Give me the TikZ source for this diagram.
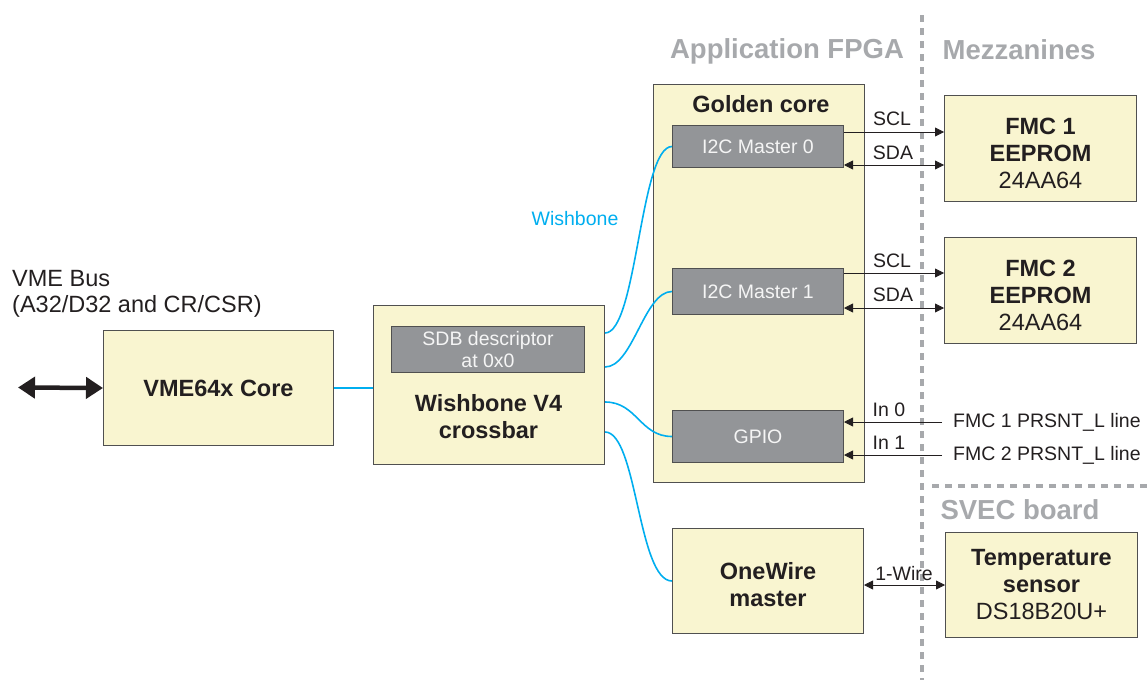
\documentclass[tikz,border=0pt]{standalone}
\usepackage{fontspec}
\setmainfont{Liberation Sans}
\usetikzlibrary{arrows.meta}
\definecolor{cream}{RGB}{249,245,208}
\definecolor{edge}{RGB}{80,80,80}
\definecolor{subgrey}{RGB}{147,149,152}
\definecolor{subtext}{RGB}{245,245,245}
\definecolor{hdrgrey}{RGB}{167,169,172}
\definecolor{wbblue}{RGB}{0,174,239}
\definecolor{ink}{RGB}{35,31,32}
\begin{document}
\begin{tikzpicture}[x=1pt,y=-1pt,
  blk/.style={draw=edge,fill=cream,line width=1pt,anchor=north west,inner sep=0pt,align=center,text=ink},
  sub/.style={draw=edge,fill=subgrey,line width=1pt,anchor=north west,inner sep=0pt,align=center,
    text=subtext,font=\fontsize{19.5}{22}\selectfont},
  bold/.style={font=\fontsize{23.5}{27}\selectfont\bfseries},
  body/.style={font=\fontsize{23.5}{27}\selectfont},
  bigtxt/.style={text=ink,align=center,font=\fontsize{23.5}{27}\selectfont\bfseries},
  lbl/.style={text=ink,font=\fontsize{19.5}{22}\selectfont,inner sep=1pt},
  hdr/.style={text=hdrgrey,font=\fontsize{27.5}{30}\selectfont\bfseries},
  wb/.style={draw=wbblue,line width=1.6pt},
  sig/.style={draw=ink,line width=0.8pt,-{Triangle[length=9pt,width=9pt]}},
  sigboth/.style={draw=ink,line width=0.8pt,{Triangle[length=9pt,width=9pt]}-{Triangle[length=9pt,width=9pt]}},
  bus/.style={draw=ink,line width=4.5pt,{Triangle[length=17pt,width=21pt]}-{Triangle[length=17pt,width=21pt]}},
  divider/.style={draw=hdrgrey,line width=3.5pt,dash pattern=on 7pt off 6pt}
]
\path[use as bounding box] (0,0) rectangle (1148,680);

% region dividers
\coordinate (vtop) at (922,15);
\coordinate (vbot) at (922,680);
\coordinate (hleft) at (932,486);
\coordinate (hright) at (1148,486);
\draw[divider] (vtop) -- (vbot);
\draw[divider] (hleft) -- (hright);

% region headings
\node[hdr] (hfpga) at (787,51) {Application FPGA};
\node[hdr] (hmezz) at (1019,49.5) {Mezzanines};
\node[hdr] (hsvec) at (1020,510) {SVEC board};

% VME side
\node[text=ink,font=\fontsize{23.5}{26}\selectfont,align=left,anchor=west,inner sep=3pt] (vmebus) at (9,294)
  {VME Bus\\(A32/D32 and CR/CSR)};
\node[blk,bold,minimum width=230pt,minimum height=115pt] (vme) at (103,330) {VME64x Core};
\coordinate (busend) at (18,387.5);
\draw[bus] (busend) -- (vme.west);

% crossbar
\node[blk,minimum width=231pt,minimum height=159pt] (xbar) at (373,305) {};
\node[sub,minimum width=193pt,minimum height=46pt] (sdb) at (391,326) {SDB descriptor\\at 0x0};
\node[bigtxt] (xbartxt) at (488.5,417) {Wishbone V4\\crossbar};
\draw[wb] (vme.east) -- (xbar.west |- vme.east);

% golden core
\node[blk,minimum width=211pt,minimum height=398pt] (gold) at (653,84) {};
\node[bigtxt] (goldtxt) at (761,104.5) {Golden core};
\node[sub,minimum width=171pt,minimum height=42pt] (i2c0) at (672,125) {I2C Master 0};
\node[sub,minimum width=171pt,minimum height=46pt] (i2c1) at (672,268) {I2C Master 1};
\node[sub,minimum width=171pt,minimum height=52pt] (gpio) at (672,410) {GPIO};
\node[blk,bold,minimum width=191pt,minimum height=105pt] (ow) at (672,528) {\rule{0pt}{24pt}OneWire\\master};

% wishbone links
\draw[wb] ([yshift=-28pt]xbar.north east) .. controls +(32,0) and +(-32,0) .. (i2c0.west);
\draw[wb] ([yshift=-62pt]xbar.north east) .. controls +(28,0) and +(-28,0) .. (i2c1.west);
\draw[wb] ([yshift=-97pt]xbar.north east) .. controls +(32,0) and +(-32,0) .. (gpio.west);
\draw[wb] ([yshift=-127pt]xbar.north east) .. controls +(32,0) and +(-34,0) .. (ow.west);
\node[lbl,text=wbblue] (wblbl) at (575,219) {Wishbone};

% mezzanine and board devices
\node[blk,body,minimum width=192pt,minimum height=106pt] (fmc1) at (944,95)
  {\rule{0pt}{27pt}\textbf{FMC 1}\\\textbf{EEPROM}\\24AA64};
\node[blk,body,minimum width=192pt,minimum height=106pt] (fmc2) at (944,237)
  {\rule{0pt}{27pt}\textbf{FMC 2}\\\textbf{EEPROM}\\24AA64};
\node[blk,body,minimum width=192pt,minimum height=105pt] (temp) at (945,532)
  {\textbf{Temperature}\\\textbf{sensor}\\DS18B20U+};

% I2C buses
\draw[sig] ([yshift=-7pt]i2c0.north east) -- ([yshift=-7pt]i2c0.north east -| fmc1.west);
\draw[sigboth] ([yshift=3pt]i2c0.south east) -- ([yshift=3pt]i2c0.south east -| fmc1.west);
\node[lbl] (scl0) at (892,118.5) {SCL};
\node[lbl] (sda0) at (893,152.5) {SDA};
\draw[sig] ([yshift=-5pt]i2c1.north east) -- ([yshift=-5pt]i2c1.north east -| fmc2.west);
\draw[sigboth] ([yshift=7pt]i2c1.south east) -- ([yshift=7pt]i2c1.south east -| fmc2.west);
\node[lbl] (scl1) at (892,261) {SCL};
\node[lbl] (sda1) at (893,295) {SDA};

% presence lines
\node[lbl,anchor=west,inner xsep=11pt] (prs1) at (942,422) {FMC 1 PRSNT\_L line};
\node[lbl,anchor=west,inner xsep=11pt] (prs2) at (942,455) {FMC 2 PRSNT\_L line};
\draw[sig] (prs1.west) -- (prs1.west -| gpio.east);
\draw[sig] (prs2.west) -- (prs2.west -| gpio.east);
\node[lbl] (in0) at (889,410) {In 0};
\node[lbl] (in1) at (889,443) {In 1};

% 1-Wire link
\draw[sigboth] (temp.west) -- (temp.west -| ow.east);
\node[lbl] (owlbl) at (904,574) {1-Wire};
\end{tikzpicture}
\end{document}
